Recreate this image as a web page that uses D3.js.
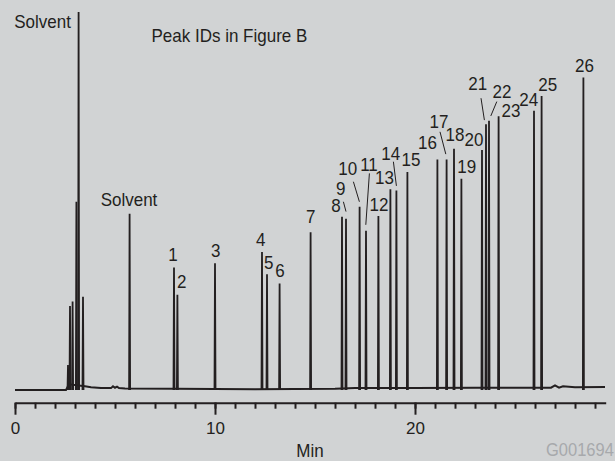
<!DOCTYPE html>
<html>
<head>
<meta charset="utf-8">
<script src="https://cdn.jsdelivr.net/npm/d3@7"></script>
<style>
  html, body { margin: 0; padding: 0; background: #d1d3d4; }
  svg { display: block; }
  text { font-family: "Liberation Sans", Arial, sans-serif; fill: #231f20; }
</style>
</head>
<body>
<svg id="chart" width="615" height="461"></svg>
<script>
// ---- Data ----
// Peak retention times (min) and heights (relative response)
const peakTimes   = [2.65, 2.75, 2.88, 3.07, 3.18, 3.40, 5.73,
                     7.95, 8.12, 10.0, 12.35, 12.6, 13.23, 14.78, 16.35, 16.55, 17.23, 17.55,
                     18.17, 18.77, 19.07, 19.62, 21.12, 21.58, 21.95, 22.32, 23.35, 23.55,
                     23.7, 24.18, 25.95, 26.33, 28.42];
const peakHeights = [6.6, 22.2, 23.4, 49.8, 100, 24.7, 46.6,
                     32.4, 25.2, 33.5, 36.5, 30.6, 28.2, 41.7, 45.8, 45.3, 48.5, 42.1,
                     46.0, 53.1, 52.8, 57.7, 61.0, 61.0, 63.8, 55.9, 63.5, 70.3,
                     71.2, 72.4, 73.9, 77.8, 82.7];
// Baseline of the trace (min, response)
const baseTimes  = [0, 2.55, 2.7, 3.5, 3.8, 4.3, 4.8, 4.9, 5.0, 5.1, 5.2, 5.5, 8, 12, 16, 17, 20, 23, 26.8, 27.0, 27.2, 27.4, 28, 29.5];
const baseValues = [0, 0, 1.5, 1.0, 0.7, 0.5, 0.5, 1.0, 0.6, 0.9, 0.5, 0.4, 0.3, 0.2, 0.3, 0.5, 0.5, 0.6, 0.6, 1.2, 0.6, 1.0, 0.7, 0.8];
// Peak labels (text, label time, label height)
const labelTexts  = ["Solvent", "Solvent", "1", "2", "3", "4", "5", "6", "7", "8", "9", "10", "11", "12", "13",
                     "14", "15", "16", "17", "18", "19", "20", "21", "22", "23", "24", "25", "26"];
const labelTimes  = [1.38, 5.7, 7.9, 8.34, 10.04, 12.29, 12.69, 13.25, 14.79, 16.05, 16.29, 16.64, 17.7, 18.2, 18.47,
                     18.79, 19.8, 20.62, 21.2, 22.0, 22.59, 22.95, 23.14, 24.35, 24.8, 25.69, 26.64, 28.47];
const labelValues = [97.4, 50.3, 36.0, 28.6, 36.9, 39.9, 33.8, 31.7, 46.0, 48.8, 53.4, 58.5, 59.8, 49.2, 56.2,
                     62.6, 61.0, 65.6, 71.0, 67.5, 59.1, 66.4, 81.1, 78.9, 74.1, 76.9, 80.9, 86.0];
// Leader lines [t1, v1, t2, v2]
const leaderLines = [[16.42, 49.8, 16.55, 47.2], [16.92, 55.1, 17.22, 49.8], [17.72, 57.3, 17.54, 43.7],
                     [18.92, 60.4, 19.07, 54.0], [21.25, 68.3, 21.54, 62.4], [23.3, 77.2, 23.47, 71.4],
                     [24.09, 76.3, 23.79, 72.5]];
const majorTicks = [0, 10, 20];
const minorTicks = d3.range(0, 30, 1);
const xTitle = "Min";
const noteText = "Peak IDs in Figure B";
const codeText = "G001694";

// ---- Layout ----
const ink = "#231f20";
const sy = 1.1; // vertical stretch of the glyphs, as in the reference
const svg = d3.select("#chart");
const x = d3.scaleLinear().domain([0, 29.535]).range([15, 605.7]);
const y = d3.scaleLinear().domain([0, 100]).range([390, 12]);
const axisY = 402.7;

// baseline trace
const line = d3.line().x(d => x(d[0])).y(d => y(d[1]));
svg.append("path")
  .attr("d", line(baseTimes.map((t, i) => [t, baseValues[i]])))
  .attr("fill", "none").attr("stroke", ink).attr("stroke-width", 2);

// peaks
const hw = 0.025;
svg.append("g").selectAll("path").data(peakTimes).join("path")
  .attr("d", (t, i) => line([[t - hw, 0], [t, peakHeights[i]], [t + hw, 0]]))
  .attr("fill", ink).attr("stroke", ink).attr("stroke-width", 1.8)
  .attr("stroke-linejoin", "bevel");

// axes
const minorAxis = d3.axisBottom(x).tickValues(minorTicks).tickSize(6).tickSizeOuter(0).tickFormat("");
const gMinor = svg.append("g").attr("transform", `translate(0,${axisY})`).call(minorAxis);
const majorAxis = d3.axisBottom(x).tickValues(majorTicks).tickSize(12).tickSizeOuter(0).tickPadding(7).tickFormat(d3.format("d"));
const gMajor = svg.append("g").attr("transform", `translate(0,${axisY})`).call(majorAxis);
gMajor.select(".domain").remove();
[gMinor, gMajor].forEach(g => {
  g.selectAll("path, line").attr("stroke", ink).attr("stroke-width", 2);
  g.selectAll("text").attr("font-size", 17).attr("fill", ink)
    .style("font-family", '"Liberation Sans", Arial, sans-serif');
});

// helper: text stretched vertically around its baseline
function stretchedText(parent, tx, ty, str, anchor, size, color) {
  const t = parent.append("text")
    .attr("transform", `translate(${tx},${ty}) scale(1,${sy})`)
    .attr("text-anchor", anchor || "start")
    .attr("font-size", size || 17)
    .text(str);
  if (color) t.style("fill", color);
  return t;
}

// axis title and notes
stretchedText(svg, 310, 456.5, xTitle, "middle");
stretchedText(svg, 546, 456, codeText, "start", 16.5, "#a7a9ac");
stretchedText(svg, 151.5, 42, noteText, "start");

// peak labels
const gl = svg.append("g");
labelTexts.forEach((s, i) => {
  stretchedText(gl, x(labelTimes[i]), y(labelValues[i]) + 6.6, s, "middle");
});

// leader lines
svg.append("g").selectAll("line").data(leaderLines).join("line")
  .attr("x1", d => x(d[0])).attr("y1", d => y(d[1]))
  .attr("x2", d => x(d[2])).attr("y2", d => y(d[3]))
  .attr("stroke", ink).attr("stroke-width", 1);
</script>
</body>
</html>
